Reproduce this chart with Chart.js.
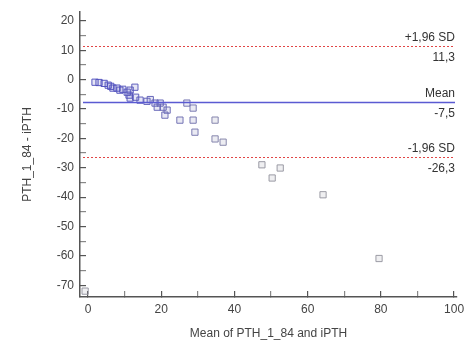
<!DOCTYPE html>
<html>
<head>
<meta charset="utf-8">
<script src="https://cdn.jsdelivr.net/npm/chart.js@4/dist/chart.umd.min.js"></script>
<style>
  html, body { margin: 0; padding: 0; background: #fff; }
  #wrap { width: 467px; height: 342px; }
</style>
</head>
<body>
<div id="wrap"><canvas id="ba"></canvas></div>
<script>
    // 資料 (Bland-Altman)
    var meanVals = [1.9, 3.0, 4.4, 5.5, 6.2, 6.8, 7.9, 8.7, 9.5, 10.7, 11.5, 12.8, 11.2, 11.5, 13.0, 14.2, 16.1, 17.0,
        18.3, 19.7, 18.9, 20.5, 21.6, 21.0, 25.1, 27.0, 28.7, 28.7, 29.2, 34.7, 34.7, 36.9, 47.5, 50.3, 52.5, 64.2, 79.5, -0.8];
    var diffVals = [-0.9, -1.0, -1.3, -1.9, -2.3, -2.9, -2.9, -3.6, -3.3, -4.3, -3.6, -2.6, -5.3, -6.3, -6.0, -7.0, -7.4, -6.8,
        -8.0, -8.0, -9.4, -9.4, -10.4, -12.1, -13.8, -8.0, -9.7, -13.8, -17.9, -13.8, -20.2, -21.3, -29.0, -33.5, -30.1, -39.2, -60.9, -72.0];

    var limitVals = [11.3, -7.5, -26.3];
    var limitNames = ['+1,96 SD', 'Mean', '-1,96 SD'];
    var limitTexts = ['11,3', '-7,5', '-26,3'];

    // 刻度 (含次刻度, 只有主刻度顯示文字)
    var yTicks = [20, 15, 10, 5, 0, -5, -10, -15, -20, -25, -30, -35, -40, -45, -50, -55, -60, -65, -70];
    var xTicks = [0, 10, 20, 30, 40, 50, 60, 70, 80, 90, 100];

    var points = meanVals.map(function (m, i) {
        return { x: m, y: diffVals[i] };
    });

    // 顏色: 近處偏藍, 遠處偏灰
    function pointColor(ctx, alpha) {
        var p = ctx.raw;
        if (!p) return 'rgba(80,80,170,' + alpha + ')';
        var t = p.x < 0 ? 1 : Math.min(1, Math.max(0, (p.x - 8) / 40));
        var r = Math.round(80 + t * (150 - 80));
        var g = Math.round(80 + t * (150 - 80));
        var b = Math.round(190 + t * (160 - 190));
        return 'rgba(' + r + ',' + g + ',' + b + ',' + alpha + ')';
    }

    // 參考線
    var baPlugin = {
        id: 'baLines',
        afterDraw: function (chart) {
            var ctx = chart.ctx;
            var xs = chart.scales.x, ys = chart.scales.y;
            ctx.save();
            limitVals.forEach(function (val, i) {
                var y = Math.round(ys.getPixelForValue(val)) + 0.5;
                ctx.beginPath();
                if (i === 1) {
                    ctx.setLineDash([]);
                    ctx.strokeStyle = 'rgb(90,90,210)';
                    ctx.lineWidth = 1.5;
                } else {
                    ctx.setLineDash([2, 2]);
                    ctx.strokeStyle = 'rgb(225,70,70)';
                    ctx.lineWidth = 1.2;
                }
                ctx.moveTo(xs.left + 3, y);
                ctx.lineTo(xs.right - 2, y);
                ctx.stroke();
                ctx.setLineDash([]);

                ctx.fillStyle = '#333';
                ctx.font = '12px "Liberation Sans", Arial, sans-serif';
                ctx.textAlign = 'right';
                ctx.textBaseline = 'bottom';
                ctx.fillText(limitNames[i], xs.right - 2, y - 3);
                ctx.textBaseline = 'top';
                ctx.fillText(limitTexts[i], xs.right - 2, y + 5);
            });
            ctx.restore();
        }
    };

    var tickFont = { family: '"Liberation Sans", Arial, sans-serif', size: 12 };

    window.onload = function () {
        var c = document.getElementById('ba').getContext('2d');
        window.baChart = new Chart(c, {
            type: 'scatter',
            data: {
                datasets: [{
                    label: 'PTH',
                    data: points,
                    pointStyle: 'rect',
                    pointRadius: 4.4,
                    pointHoverRadius: 4.4,
                    borderWidth: 1,
                    borderColor: function (ctx) { return pointColor(ctx, 0.95); },
                    backgroundColor: function (ctx) { return pointColor(ctx, 0.15); }
                }]
            },
            options: {
                responsive: true,
                maintainAspectRatio: false,
                animation: false,
                layout: { autoPadding: false, padding: { left: 0, right: 10, top: 12, bottom: 0 } },
                plugins: {
                    legend: { display: false },
                    tooltip: { enabled: false }
                },
                scales: {
                    x: {
                        type: 'linear',
                        min: -2.2,
                        max: 100.8,
                        afterFit: function (s) {
                            s.height = 45;
                            s.paddingLeft = 0;
                            s.paddingRight = 0;
                        },
                        afterBuildTicks: function (s) {
                            s.ticks = xTicks.map(function (v) { return { value: v }; });
                        },
                        grid: {
                            display: true,
                            drawOnChartArea: false,
                            drawTicks: true,
                            tickLength: -6,
                            color: function (c) { return (c.tick && c.tick.value % 20 === 0) ? '#555' : '#888'; },
                            lineWidth: 1.2
                        },
                        border: { display: true, color: '#555', width: 1.5 },
                        ticks: {
                            padding: 11, color: '#444', font: tickFont, maxRotation: 0, autoSkip: false,
                            callback: function (v) { return v % 20 === 0 ? v : ''; }
                        },
                        title: {
                            display: true,
                            text: 'Mean of PTH_1_84 and iPTH',
                            color: '#444',
                            font: tickFont,
                            padding: { top: 0, bottom: 1 }
                        }
                    },
                    y: {
                        type: 'linear',
                        min: -74,
                        max: 23,
                        afterFit: function (s) {
                            s.width = 80;
                            s.paddingTop = 0;
                            s.paddingBottom = 0;
                        },
                        afterBuildTicks: function (s) {
                            s.ticks = yTicks.map(function (v) { return { value: v }; });
                        },
                        grid: {
                            display: true,
                            drawOnChartArea: false,
                            drawTicks: true,
                            tickLength: -6,
                            color: function (c) { return (c.tick && c.tick.value % 10 === 0) ? '#555' : '#888'; },
                            lineWidth: 1.2
                        },
                        border: { display: true, color: '#555', width: 1.5 },
                        ticks: {
                            padding: 12, color: '#444', font: tickFont, autoSkip: false,
                            callback: function (v) { return v % 10 === 0 ? v : ''; }
                        },
                        title: {
                            display: true,
                            text: 'PTH_1_84 - iPTH',
                            color: '#444',
                            font: tickFont,
                            padding: { top: 20, bottom: 0 }
                        }
                    }
                }
            },
            plugins: [baPlugin]
        });
    };
</script>
</body>
</html>
